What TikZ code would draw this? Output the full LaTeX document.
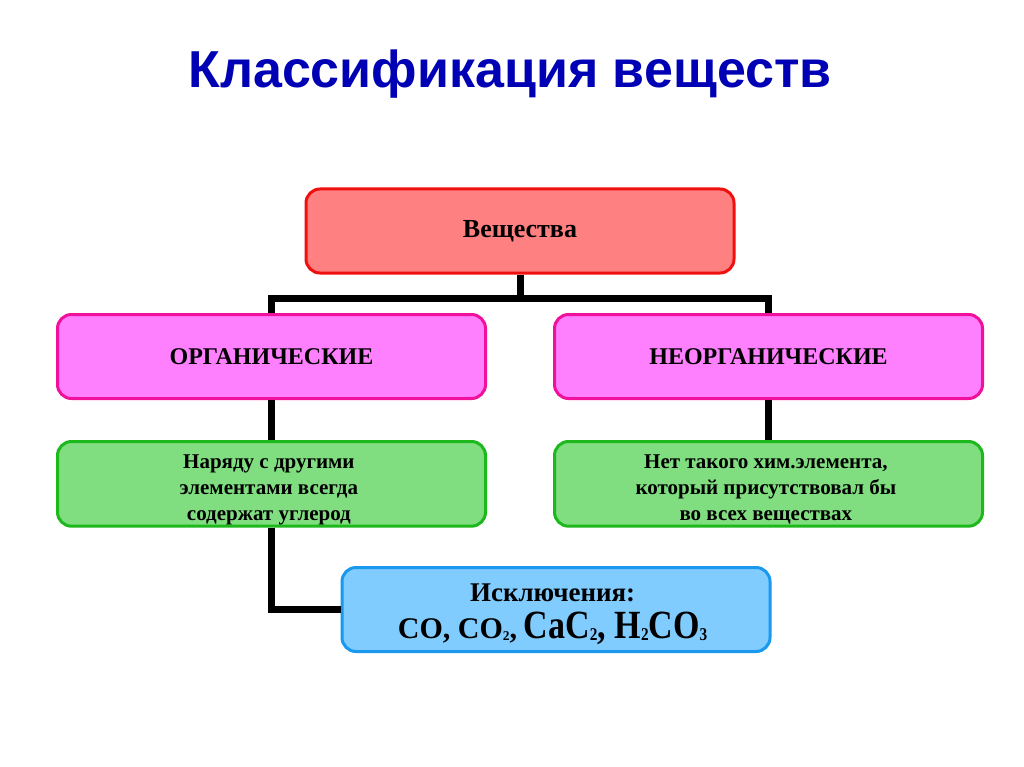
\documentclass[tikz,border=0pt]{standalone}
\usepackage{fontspec}
\setmainfont{Liberation Serif}
\newfontfamily\headfont{Liberation Sans}
\newfontfamily\tallfont{Liberation Serif}[FakeStretch=0.85]
\usepackage{xcolor}
\usetikzlibrary{arrows.meta, positioning}

\definecolor{headblue}{HTML}{0000B4}
\definecolor{redfill}{HTML}{FF8080}
\definecolor{redline}{HTML}{F01010}
\definecolor{pinkfill}{HTML}{FF80FF}
\definecolor{pinkline}{HTML}{F0109C}
\definecolor{greenfill}{HTML}{80DD80}
\definecolor{greenline}{HTML}{1CB81C}
\definecolor{bluefill}{HTML}{80CCFF}
\definecolor{blueline}{HTML}{1A98EE}

% small chemical index, set low beside the symbol
\newcommand{\chemidx}[1]{\raisebox{-0.05em}{\scalebox{0.45}{#1}}}
% lines of text, set a little lower than the middle of their box
\newcommand{\lowlines}[2]{\raisebox{-#1}[\height][\depth]{\begin{tabular}{@{}c@{}}#2\end{tabular}}}

\begin{document}
\begin{tikzpicture}[
        x=1pt, y=-1pt,
        box/.style={
            draw,
            rectangle,
            rounded corners=14pt,
            line width=3pt,
            minimum width=428pt,
            minimum height=84pt,
            align=center,
            font=\bfseries
        },
        top/.style={box, fill=redfill, draw=redline, font=\bfseries\fontsize{26}{30}\selectfont},
        kind/.style={box, fill=pinkfill, draw=pinkline, font=\bfseries\fontsize{24}{28}\selectfont},
        note/.style={box, fill=greenfill, draw=greenline, font=\bfseries\fontsize{21}{26}\selectfont},
        extra/.style={box, fill=bluefill, draw=blueline, font=\bfseries\fontsize{27}{37}\selectfont},
        link/.style={line width=7pt, black}
    ]
        \useasboundingbox[fill=white] (0,0) rectangle (1024,767);

        \node[text=headblue, font=\headfont\bfseries\fontsize{52}{60}\selectfont] (title) at (510,74) {Классификация веществ};

        \node[top] (substance) at (520,231) {Вещества};

        \node[kind] (organic) at (271.5,356.5) {ОРГАНИЧЕСКИЕ};
        \node[kind] (inorganic) at (768.5,356.5) {НЕОРГАНИЧЕСКИЕ};

        \node[note, below=40pt of organic] (orgnote) {\lowlines{5pt}{
            Наряду с другими\\
            элементами всегда\\
            содержат углерод}
        };
        \node[note, below=40pt of inorganic] (inorgnote) {\lowlines{5pt}{
            Нет такого хим.элемента,\\
            который присутствовал бы\\
            во всех веществах}
        };

        \node[extra] (exceptions) at (556,609.5) {\lowlines{3pt}{
            Исключения:\\
            {\fontsize{30}{37}\selectfont CO,\ CO\chemidx{2},}\
            {\tallfont\fontsize{40}{37}\selectfont CaC\chemidx{2}, H\chemidx{2}CO\chemidx{3}}}
        };

        \coordinate (bus) at (520,298);

        \draw[link] (substance.south) -- (bus);
        \draw[link] (organic.north) |- (bus) -| (inorganic.north);
        \draw[link] (organic) -- (orgnote);
        \draw[link] (inorganic) -- (inorgnote);
        \draw[link] (orgnote.south) |- (exceptions.west);
    \end{tikzpicture}
\end{document}
